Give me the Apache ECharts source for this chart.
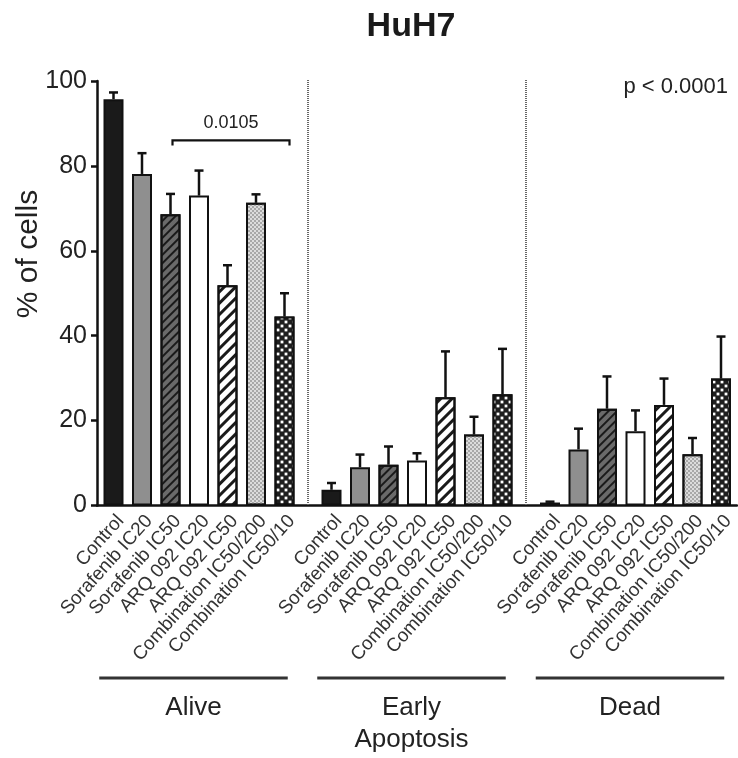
<!DOCTYPE html>
<html><head><meta charset="utf-8">
<script src="https://cdn.jsdelivr.net/npm/echarts@6/dist/echarts.min.js"></script>
<style>html,body{margin:0;padding:0;background:#fff}#c{width:738px;height:758px}</style>
</head><body><div id="c"></div>
<script>
// ---- data ----
const categories = ['Control','Sorafenib IC20','Sorafenib IC50','ARQ 092 IC20','ARQ 092 IC50','Combination IC50/200','Combination IC50/10'];
const groupNames = ['Alive','Early\nApoptosis','Dead'];
const aliveValues = [95.7, 78.1, 68.6, 73.0, 51.9, 71.3, 44.5];
const aliveErrors = [1.6, 4.9, 4.8, 5.9, 4.7, 2.0, 5.5];
const earlyValues = [3.7, 9.0, 9.6, 10.6, 25.5, 16.7, 26.2];
const earlyErrors = [1.6, 3.0, 4.3, 1.7, 10.8, 4.2, 10.7];
const deadValues = [0.7, 13.2, 22.8, 17.5, 23.7, 12.1, 29.9];
const deadErrors = [0.2, 4.9, 7.6, 4.9, 6.2, 3.8, 9.9];
const yMin = 0, yMax = 100, yStep = 20;
const titleText = 'HuH7';
const yAxisTitle = '% of cells';
const pValueText = 'p < 0.0001';
const bracketFrom = 2, bracketTo = 6, bracketLevel = 86, bracketLabel = '0.0105';

// ---- layout ----
const FONT = "'Liberation Sans', Arial, Helvetica, sans-serif";
const plotTop = 81, plotBottom = 505.5, axisLeft = 97;
const gridW = 199.5;
const gridLefts = [99.25, 317.25, 535.75];
const H = 758;

const barStyles = [
  {color:'#1a1a1a', borderColor:'#111', borderWidth:2},
  {color:'#8f8f8f', borderColor:'#111', borderWidth:2},
  {color:'#6a6a6a', borderColor:'#111', borderWidth:2,
    decal:{symbol:'rect', color:'#1a1a1a', dashArrayX:[1,0], dashArrayY:[2,4], rotation:-Math.PI/4}},
  {color:'#ffffff', borderColor:'#111', borderWidth:2},
  {color:'#ffffff', borderColor:'#111', borderWidth:2,
    decal:{symbol:'rect', color:'#1a1a1a', dashArrayX:[1,0], dashArrayY:[2.5,4.5], rotation:-Math.PI/4}},
  {color:'#dcdcdc', borderColor:'#111', borderWidth:2,
    decal:{symbol:'rect', color:'#a8a8a8', symbolSize:1, dashArrayX:[[2,2],[0,2,2,0]], dashArrayY:[2,0]}},
  {color:'#1e1e1e', borderColor:'#111', borderWidth:2,
    decal:{symbol:'rect', color:'#ffffff', symbolSize:0.7, dashArrayX:[[4,4],[0,4,4,0]], dashArrayY:[4,0]}}
];

const groupValues = [aliveValues, earlyValues, deadValues];
const groupErrors = [aliveErrors, earlyErrors, deadErrors];

const grids = [{left: axisLeft, right: 1, top: plotTop, bottom: H - plotBottom}];
const xAxes = [{gridIndex:0, type:'value', min:0, max:1,
  axisLine:{show:true, lineStyle:{color:'#111', width:2.5}}, axisTick:{show:false},
  axisLabel:{show:false}, splitLine:{show:false}}];
const yAxes = [{gridIndex:0, type:'value', min:yMin, max:yMax, interval:yStep,
  axisLine:{show:true, lineStyle:{color:'#111', width:2.5}},
  axisTick:{show:true, length:6, lineStyle:{color:'#111', width:2.5}},
  axisLabel:{fontSize:25, color:'#222', fontFamily:FONT, margin:10},
  splitLine:{show:false}}];
const series = [];

for (let g = 0; g < 3; g++) {
  const gi = g + 1;
  grids.push({left: gridLefts[g], width: gridW, top: plotTop, bottom: H - plotBottom});
  xAxes.push({gridIndex:gi, type:'category', data:categories,
    axisLine:{show:false}, axisTick:{show:false},
    axisLabel:{interval:0, rotate:48, fontSize:19, color:'#333', fontFamily:FONT, margin:6, verticalAlign:'top'}});
  yAxes.push({gridIndex:gi, type:'value', min:yMin, max:yMax, show:false});
  series.push({type:'bar', xAxisIndex:gi, yAxisIndex:gi, barWidth:20, z:2,
    data: groupValues[g].map((v,i)=>({value:v, itemStyle:barStyles[i]}))});
  series.push({type:'custom', xAxisIndex:gi, yAxisIndex:gi, z:3,
    data: groupValues[g].map((v,i)=>[i, v, v + groupErrors[g][i]]),
    renderItem:(params, api)=>{
      const p0 = api.coord([api.value(0), api.value(1)]);
      const p1 = api.coord([api.value(0), api.value(2)]);
      const st = {stroke:'#111', lineWidth:2.5};
      return {type:'group', children:[
        {type:'line', shape:{x1:p0[0], y1:p0[1], x2:p1[0], y2:p1[1]}, style:st},
        {type:'line', shape:{x1:p1[0]-4.5, y1:p1[1], x2:p1[0]+4.5, y2:p1[1]}, style:st}
      ]};
    }});
}

// significance bracket in the Alive group
series.push({type:'custom', xAxisIndex:1, yAxisIndex:1, z:4,
  data:[[bracketFrom, bracketTo, bracketLevel]],
  renderItem:(params, api)=>{
    const a = api.coord([api.value(0), api.value(2)]);
    const b = api.coord([api.value(1), api.value(2)]);
    const ax = a[0] + 2, bx = b[0] + 5;
    return {type:'group', children:[
      {type:'polyline', shape:{points:[[ax, a[1]+5],[ax, a[1]],[bx, b[1]],[bx, b[1]+5]]},
        style:{stroke:'#111', lineWidth:2.2, fill:null}},
      {type:'text', style:{text:bracketLabel, x:(ax+bx)/2, y:a[1]-17, align:'center', verticalAlign:'middle',
        fontSize:18, fontFamily:FONT, fill:'#222'}}
    ]};
  }});

// decorations: separators, group underlines and labels
const graphics = [];
for (let g = 0; g < 2; g++) {
  const sx = Math.round((gridLefts[g] + gridW + gridLefts[g+1]) / 2);
  graphics.push({type:'line', shape:{x1:sx, y1:plotTop - 1, x2:sx, y2:plotBottom},
    style:{stroke:'#666', lineWidth:2, lineDash:[1,1]}, z:1});
}
for (let g = 0; g < 3; g++) {
  const x1 = gridLefts[g], x2 = gridLefts[g] + gridW - 11;
  graphics.push({type:'line', shape:{x1:x1, y1:678, x2:x2, y2:678}, style:{stroke:'#333', lineWidth:3}});
  graphics.push({type:'text', style:{text:groupNames[g], x:(x1+x2)/2, y:692, align:'center', verticalAlign:'top',
    fontSize:26, lineHeight:32, fontFamily:FONT, fill:'#222'}});
}
graphics.push({type:'text', style:{text:titleText, x:411, y:27, align:'center', verticalAlign:'middle',
  fontSize:34, fontWeight:'bold', fontFamily:FONT, fill:'#1a1a1a'}});
graphics.push({type:'text', style:{text:pValueText, x:728, y:87, align:'right', verticalAlign:'middle',
  fontSize:22, fontFamily:FONT, fill:'#222'}});
graphics.push({type:'text', x:29, y:254, rotation:Math.PI/2,
  style:{text:yAxisTitle, x:0, y:0, align:'center', verticalAlign:'middle',
  fontSize:30, fontFamily:FONT, fill:'#222'}});

const chart = echarts.init(document.getElementById('c'), null, {renderer:'canvas'});
chart.setOption({
  backgroundColor:'#fff',
  animation:false,
  grid: grids, xAxis: xAxes, yAxis: yAxes, series: series, graphic: graphics
});
</script></body></html>
